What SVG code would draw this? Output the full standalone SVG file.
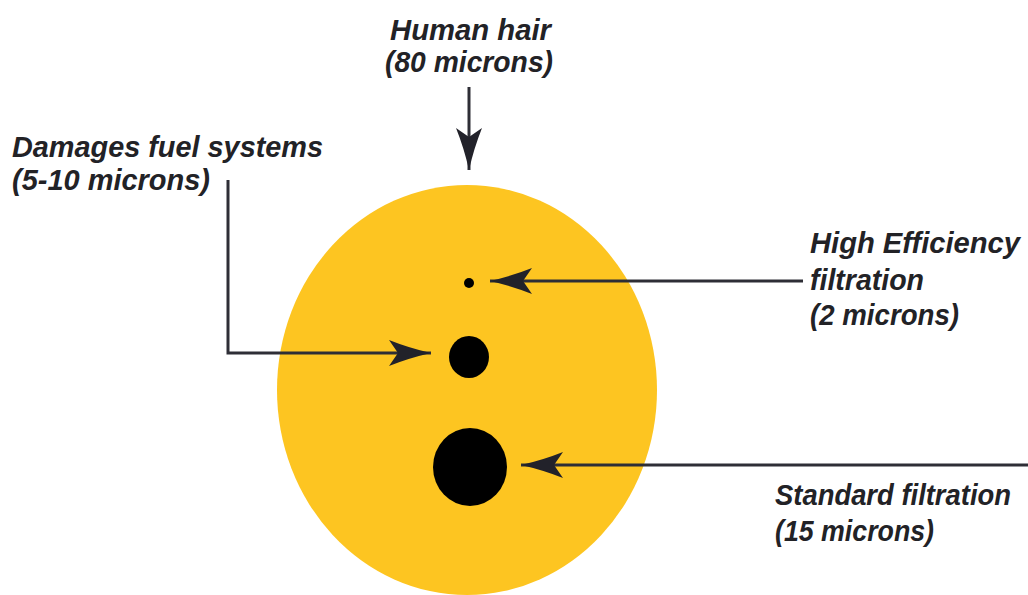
<svg xmlns="http://www.w3.org/2000/svg" width="1028" height="595" viewBox="0 0 1028 595">
  <defs>
    <style>
      .lbl { font-family: "Liberation Sans", Arial, sans-serif; font-weight: bold; font-style: italic; font-size: 30px; fill: #222226; }
      .conn { fill: none; stroke: #2e2e36; stroke-width: 3; }
      .dot { fill: #000000; }
    </style>
    <marker id="head" markerUnits="userSpaceOnUse" viewBox="-44 -14 46 28" refX="0" refY="0" markerWidth="46" markerHeight="28" orient="auto" overflow="visible">
      <path d="M0,0 Q-22,-5 -42,-13 L-33,0 L-42,13 Q-22,5 0,0 Z" fill="#22222a"/>
    </marker>
  </defs>
  <rect width="1028" height="595" fill="#ffffff"/>

  <g id="particle-chart">
    <ellipse id="hair" cx="467" cy="390" rx="190" ry="205" fill="#FDC521"/>
    <ellipse id="high-eff-dot" class="dot" cx="469" cy="283" rx="5" ry="5"/>
    <ellipse id="fuel-dot" class="dot" cx="469" cy="357" rx="20" ry="21"/>
    <ellipse id="standard-dot" class="dot" cx="470" cy="467" rx="37" ry="39"/>
  </g>

  <g id="connectors">
    <path class="conn" d="M469,87 V170" marker-end="url(#head)"/>
    <path class="conn" d="M228,180 V353 H431" marker-end="url(#head)"/>
    <path class="conn" d="M803,281 H490" marker-end="url(#head)"/>
    <path class="conn" d="M1028,465 H521" marker-end="url(#head)"/>
  </g>

  <g id="label-hair">
    <text class="lbl" x="390" y="40" textLength="161" lengthAdjust="spacingAndGlyphs">Human hair</text>
    <text class="lbl" x="385" y="72" textLength="168" lengthAdjust="spacingAndGlyphs">(80 microns)</text>
  </g>
  <g id="label-fuel">
    <text class="lbl" x="12" y="157" textLength="311" lengthAdjust="spacingAndGlyphs">Damages fuel systems</text>
    <text class="lbl" x="12" y="190" textLength="198" lengthAdjust="spacingAndGlyphs">(5-10 microns)</text>
  </g>
  <g id="label-high">
    <text class="lbl" x="810" y="253" textLength="210" lengthAdjust="spacingAndGlyphs">High Efficiency</text>
    <text class="lbl" x="810" y="290" textLength="114" lengthAdjust="spacingAndGlyphs">filtration</text>
    <text class="lbl" x="810" y="325" textLength="149" lengthAdjust="spacingAndGlyphs">(2 microns)</text>
  </g>
  <g id="label-standard">
    <text class="lbl" x="775" y="505" textLength="236" lengthAdjust="spacingAndGlyphs">Standard filtration</text>
    <text class="lbl" x="775" y="541" textLength="159" lengthAdjust="spacingAndGlyphs">(15 microns)</text>
  </g>
</svg>
